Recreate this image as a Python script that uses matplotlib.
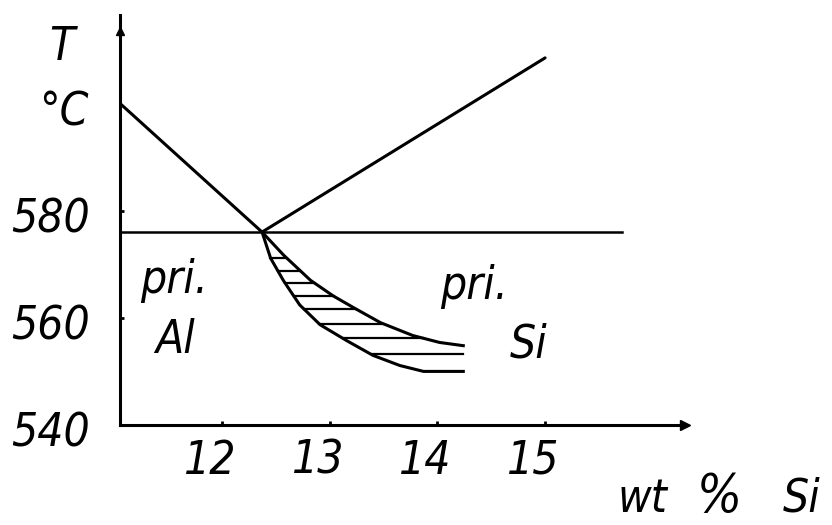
import numpy as np
import matplotlib
matplotlib.use("Agg")
import matplotlib.pyplot as plt
from matplotlib.transforms import ScaledTranslation

plt.rcParams['font.family'] = ['DejaVu Sans']
plt.rcParams['font.style'] = 'italic'
plt.rcParams['font.stretch'] = 'condensed'

# Al-Si phase diagram near the eutectic, as hand drawn
eutectic_x = 12.37
eutectic_T = 576

# liquidus lines (wt % Si, deg C)
al_liquidus_x = [11.05, eutectic_x]
al_liquidus_T = [600, eutectic_T]
si_liquidus_x = [eutectic_x, 15.0]
si_liquidus_T = [eutectic_T, 608.5]

# eutectic horizontal
eut_line_x = [11.05, 15.71]

# upper and lower bounds of the hatched band below the eutectic
upper_x = [eutectic_x, 12.57, 12.82, 13.03, 13.22, 13.47, 13.77, 14.02, 14.24]
upper_T = [eutectic_T, 571.7, 567.0, 564.1, 561.9, 559.1, 556.7, 555.4, 554.8]
lower_x = [eutectic_x, 12.45, 12.57, 12.72, 12.91, 13.16, 13.40, 13.65, 13.87, 14.24]
lower_T = [eutectic_T, 571.1, 566.9, 562.4, 558.7, 555.7, 553.0, 551.1, 550.0, 550.0]
hatch_T = [571.2, 568.8, 566.5, 564.0, 561.7, 558.9, 556.2, 553.2]

x_ticks = [12, 13, 14, 15]
y_ticks = [540, 560, 580]

fs = 33

fig = plt.figure(figsize=(8.32, 5.25), dpi=100)
ax = fig.add_axes([120 / 832, 1 - 425 / 525, 565 / 832, 410 / 525])
ax.set_xlim(11.05, 16.3)
ax.set_ylim(540.5, 616.5)

lw = 2.2
ax.plot(al_liquidus_x, al_liquidus_T, color='black', lw=lw, solid_capstyle='round')
ax.plot(si_liquidus_x, si_liquidus_T, color='black', lw=lw, solid_capstyle='round')
ax.plot(eut_line_x, [eutectic_T, eutectic_T], color='black', lw=1.8)
ax.plot(upper_x, upper_T, color='black', lw=lw)
ax.plot(lower_x, lower_T, color='black', lw=lw)

# horizontal hatching between the two curves
for t in hatch_T:
    x_left = np.interp(t, lower_T[::-1], lower_x[::-1])
    x_right = np.interp(t, upper_T[::-1], upper_x[::-1])
    ax.plot([x_left, x_right], [t, t], color='black', lw=1.6)

# axes with small arrow heads
for side in ['top', 'right']:
    ax.spines[side].set_visible(False)
for side in ['left', 'bottom']:
    ax.spines[side].set_linewidth(2.2)
ax.plot([1.0], [0.0], marker='>', ms=7, color='black', transform=ax.transAxes, clip_on=False)
ax.plot([0.0], [0.96], marker='^', ms=6, color='black', transform=ax.transAxes, clip_on=False)

ax.set_xticks(x_ticks)
ax.set_yticks(y_ticks)
ax.tick_params(axis='both', direction='in', length=3, width=2, labelsize=fs)
ax.tick_params(axis='y', pad=22)
ax.tick_params(axis='x', pad=10)
shift = ScaledTranslation(-12 / 100, 0, fig.dpi_scale_trans)
for lab in ax.get_xticklabels():
    lab.set_transform(lab.get_transform() + shift)
shift_y = ScaledTranslation(0, -4 / 100, fig.dpi_scale_trans)
for lab in ax.get_yticklabels():
    lab.set_transform(lab.get_transform() + shift_y)

# axis titles
fig.text(62 / 832, 1 - 60 / 525, 'T', fontsize=fs, ha='center', va='baseline')
fig.text(64 / 832, 1 - 126 / 525, '°C', fontsize=fs, ha='center', va='baseline')
fig.text(617 / 832, 1 - 512 / 525, 'wt', fontsize=fs, va='baseline')
fig.text(697 / 832, 1 - 512 / 525, '%', fontsize=fs + 5, va='baseline')
fig.text(783 / 832, 1 - 512 / 525, 'Si', fontsize=fs, va='baseline')

# phase labels
ax.text(11.24, 564.6, 'pri.', fontsize=fs, va='baseline')
ax.text(11.38, 553.5, 'Al', fontsize=fs, va='baseline')
ax.text(14.02, 563.5, 'pri.', fontsize=fs, va='baseline')
ax.text(14.67, 552.6, 'Si', fontsize=fs, va='baseline')

fig.savefig('out.png', dpi=100)
